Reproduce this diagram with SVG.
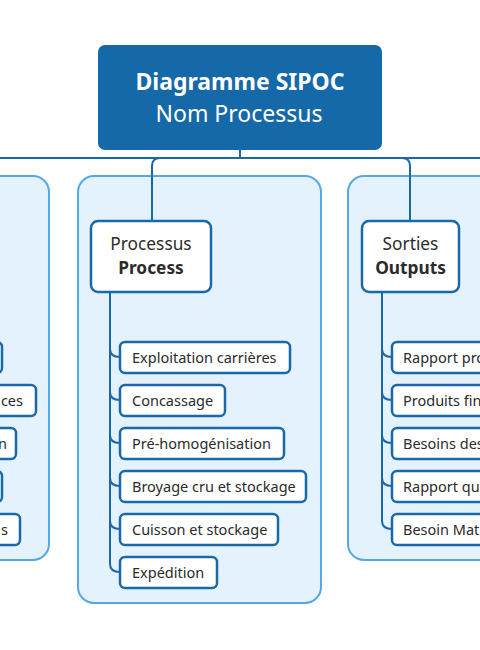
<svg xmlns="http://www.w3.org/2000/svg" width="480" height="650" viewBox="0 0 480 650">
<style>
.panel{fill:#e4f2fd;stroke:#55a8e4;stroke-width:2}
.node{fill:#ffffff;stroke:#1a68a8;stroke-width:2.5}
.cn{fill:none;stroke:#1a68a8;stroke-width:2}
.t{font-family:"Noto Sans","Open Sans",sans-serif;fill:#2b2b2b}
.c{font-size:14.5px}
.h{font-size:17.3px;text-anchor:middle}
.b{font-weight:bold}
.w{fill:#ffffff;text-anchor:middle}
</style>
<rect width="480" height="650" fill="#ffffff"/>
<g id="panels">
<rect class="panel" x="-40" y="176" width="89" height="384" rx="16"/>
<rect class="panel" x="78" y="176" width="243" height="427" rx="16"/>
<rect class="panel" x="348" y="176" width="160" height="384" rx="16"/>
</g>
<g id="connectors">
<path class="cn" d="M240 150 V158 M0 158 H480 M152 221 V166 Q152 158 160 158 M410 221 V166 Q410 158 402 158"/>
<path class="cn" d="M110 292 V564 Q110 572 120 572 M110 349 Q110 357 120 357 M110 392 Q110 400 120 400 M110 435 Q110 443 120 443 M110 478 Q110 486 120 486 M110 521 Q110 529 120 529"/>
<path class="cn" d="M382 292 V521 Q382 529 392 529 M382 349 Q382 357 392 357 M382 392 Q382 400 392 400 M382 435 Q382 443 392 443 M382 478 Q382 486 392 486"/>
</g>
<g id="root">
<rect x="98" y="45" width="284" height="105" rx="7" fill="#1569a8"/>
<text class="t w b" x="240" y="90" font-size="23">Diagramme SIPOC</text>
<text class="t w" x="239" y="122" font-size="23">Nom Processus</text>
</g>
<g id="process">
<rect class="node" x="91" y="221" width="120" height="71" rx="7"/>
<text class="t h" x="151" y="250">Processus</text>
<text class="t h b" x="151" y="274">Process</text>
</g>
<g id="outputs">
<rect class="node" x="362" y="221" width="97" height="71" rx="7"/>
<text class="t h" x="410.500" y="250">Sorties</text>
<text class="t h b" x="410.500" y="274">Outputs</text>
</g>
<g id="p1"><rect class="node" x="120" y="342" width="170" height="31" rx="5"/><text class="t c" x="132" y="363">Exploitation carrières</text></g>
<g id="p2"><rect class="node" x="120" y="385" width="105" height="31" rx="5"/><text class="t c" x="132" y="406">Concassage</text></g>
<g id="p3"><rect class="node" x="120" y="428" width="164" height="31" rx="5"/><text class="t c" x="132" y="449">Pré-homogénisation</text></g>
<g id="p4"><rect class="node" x="120" y="471" width="186" height="31" rx="5"/><text class="t c" x="132" y="492">Broyage cru et stockage</text></g>
<g id="p5"><rect class="node" x="120" y="514" width="158" height="31" rx="5"/><text class="t c" x="132" y="535">Cuisson et stockage</text></g>
<g id="p6"><rect class="node" x="120" y="557" width="97" height="31" rx="5"/><text class="t c" x="132" y="578">Expédition</text></g>
<g id="o1"><rect class="node" x="392" y="342" width="120" height="31" rx="5"/><text class="t c" x="403" y="363">Rapport pro</text></g>
<g id="o2"><rect class="node" x="392" y="385" width="120" height="31" rx="5"/><text class="t c" x="403" y="406">Produits fin</text></g>
<g id="o3"><rect class="node" x="392" y="428" width="120" height="31" rx="5"/><text class="t c" x="403" y="449">Besoins des</text></g>
<g id="o4"><rect class="node" x="392" y="471" width="120" height="31" rx="5"/><text class="t c" x="403" y="492">Rapport qu</text></g>
<g id="o5"><rect class="node" x="392" y="514" width="120" height="31" rx="5"/><text class="t c" x="403" y="535">Besoin Mati</text></g>
<g id="i1"><rect class="node" x="-100" y="342" width="102" height="31" rx="5"/></g>
<g id="i2"><rect class="node" x="-100" y="385" width="136" height="31" rx="5"/><text class="t c" x="23" y="406" text-anchor="end">ces</text></g>
<g id="i3"><rect class="node" x="-100" y="428" width="116" height="31" rx="5"/><text class="t c" x="7" y="449" text-anchor="end">n</text></g>
<g id="i4"><rect class="node" x="-100" y="471" width="102" height="31" rx="5"/></g>
<g id="i5"><rect class="node" x="-100" y="514" width="120" height="31" rx="5"/><text class="t c" x="8" y="535" text-anchor="end">s</text></g>
</svg>
